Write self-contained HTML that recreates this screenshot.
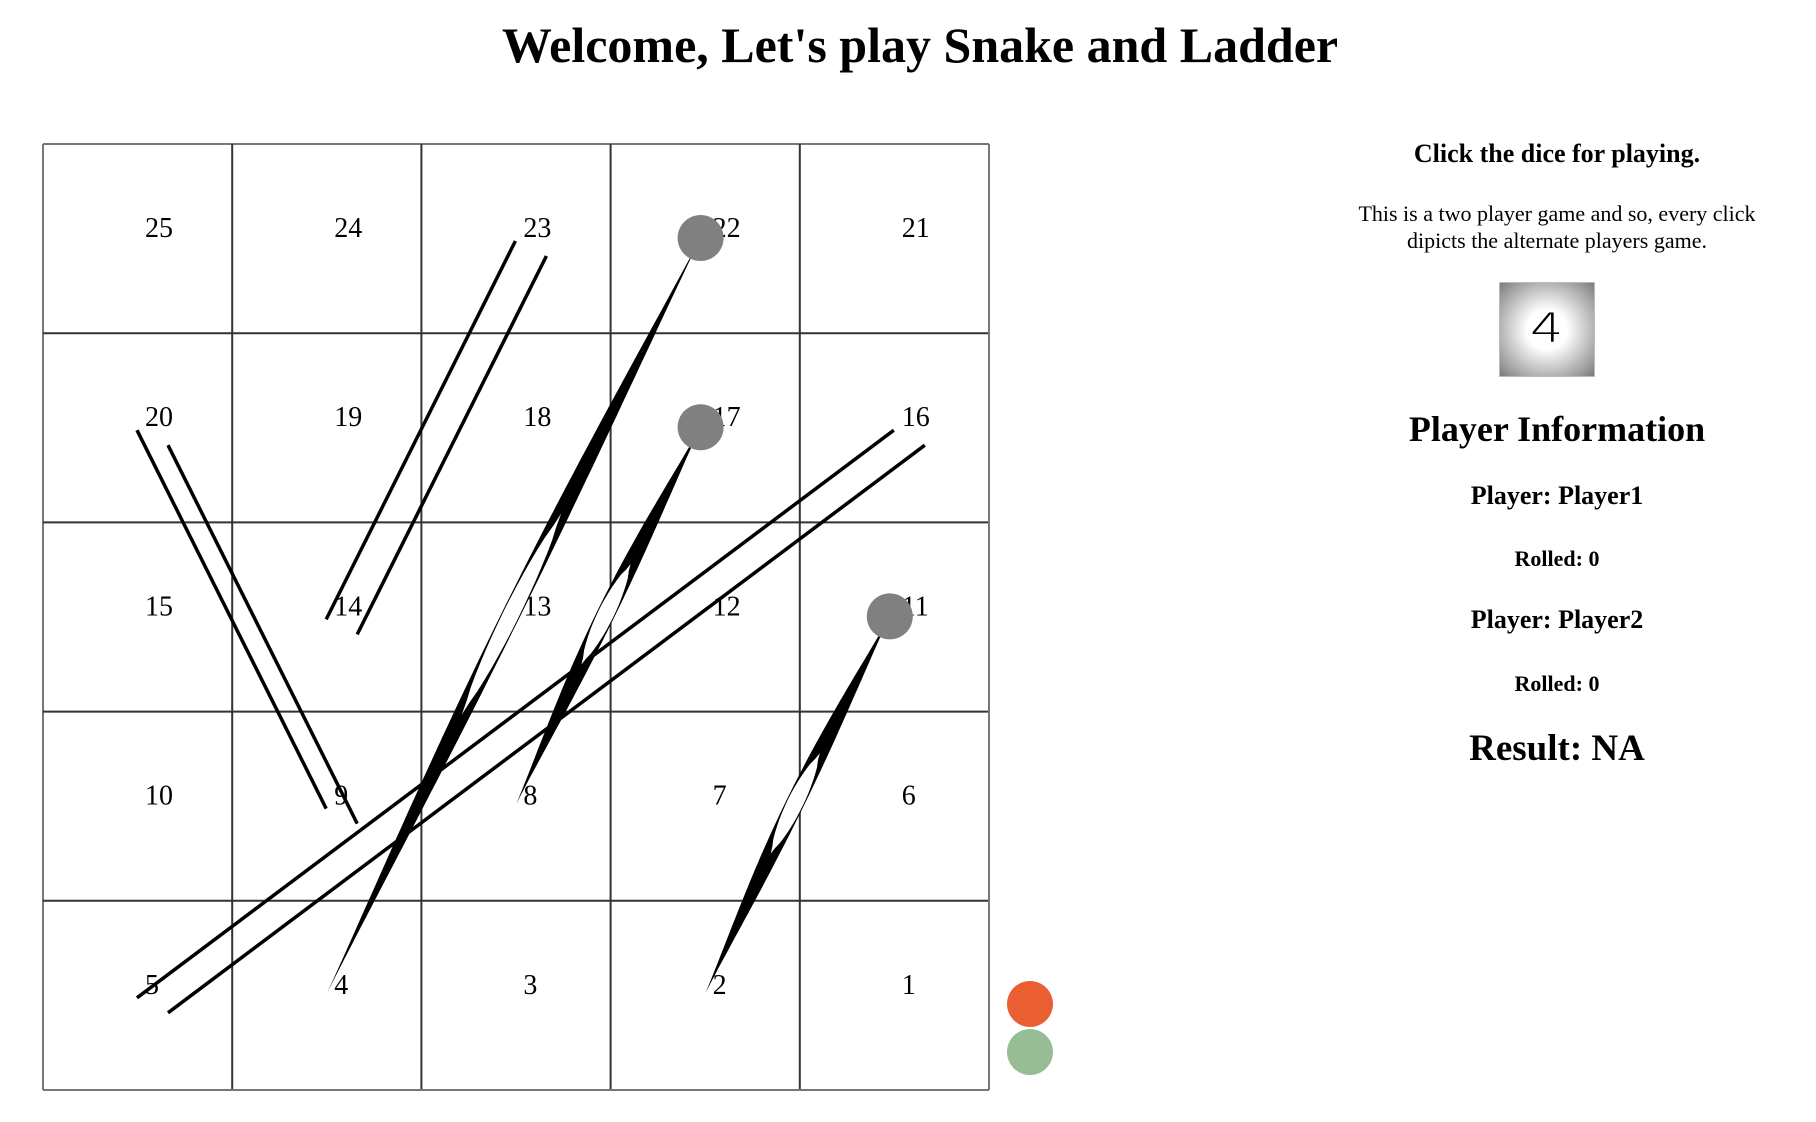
<!DOCTYPE html>
<html><head><meta charset="utf-8">
<style>
body{margin:0;width:1816px;height:1122px;background:#fff;font-family:"Liberation Serif",serif;overflow:hidden;position:relative}
h1{position:absolute;left:0;width:1840px;top:16px;margin:0;text-align:center;font-size:50px;font-weight:bold}
.panel{position:absolute;left:1307px;width:500px;top:0;text-align:center}
.t{position:absolute;left:0;width:500px;margin:0}
#dice{position:absolute;left:1499px;top:282px;width:94px;height:93px;border:1px solid #bbb;background:radial-gradient(ellipse at center,#fff 0%,#fff 30%,#999 85%,#7a7a7a 100%);font-family:"DejaVu Sans",sans-serif;font-size:40px;line-height:93px;text-align:center;font-weight:200;cursor:pointer}
#dice span{display:inline-block;transform:scaleX(1.3)}
</style></head><body>
<h1>Welcome, Let's play Snake and Ladder</h1>
<svg id="board" width="1816" height="1122" style="position:absolute;left:0;top:0"></svg>
<div class="panel">
<p class="t" style="top:139px;font-size:26px;font-weight:bold">Click the dice for playing.</p>
<p class="t" style="top:200px;font-size:22px;line-height:27px">This is a two player game and so, every click<br>dipicts the alternate players game.</p>
<p class="t" style="top:408px;font-size:36px;font-weight:bold">Player Information</p>
<p class="t" style="top:481px;font-size:26px;font-weight:bold">Player: Player1</p>
<p class="t" style="top:546px;font-size:22px;font-weight:bold">Rolled: 0</p>
<p class="t" style="top:605px;font-size:26px;font-weight:bold">Player: Player2</p>
<p class="t" style="top:671px;font-size:22px;font-weight:bold">Rolled: 0</p>
<p class="t" style="top:727px;font-size:37px;font-weight:bold">Result: NA</p>
</div>
<div id="dice"><span>4</span></div>
<script>
const cellNumbers=[25,24,23,22,21,20,19,18,17,16,15,14,13,12,11,10,9,8,7,6,5,4,3,2,1];
const ladderFrom=[9,14,5];
const ladderTo=[20,23,16];
const snakeHead=[22,17,11];
const snakeTail=[4,8,2];
const NS="http://www.w3.org/2000/svg";
const svg=document.getElementById('board');
const L=43,T=144,C=189.2;
function col(n){return (25-n)%5}
function row(n){return Math.floor((25-n)/5)}
function cx(n){return L+col(n)*C}
function cy(n){return T+row(n)*C}
function mk(tag,attrs){const e=document.createElementNS(NS,tag);for(const k in attrs)e.setAttribute(k,attrs[k]);svg.appendChild(e);return e}
for(let i=0;i<=5;i++){
 let v=mk('line',{x1:L+i*C,y1:T,x2:L+i*C,y2:T+5*C,stroke:(i==0||i==5)?'#777':'#333','stroke-width':2});
 
 
 let h=mk('line',{x1:L,y1:T+i*C,x2:L+5*C,y2:T+i*C,stroke:(i==0||i==5)?'#777':'#333','stroke-width':2});
 
 
}
cellNumbers.forEach(n=>{
 const t=mk('text',{x:cx(n)+102,y:cy(n)+93,'font-size':28,'font-family':'Liberation Serif, serif'});
 t.textContent=n;
 
 
});
ladderFrom.forEach((f,i)=>{
 const to=ladderTo[i];
 [[0,0],[31,15]].forEach(o=>{
  const l=mk('line',{x1:cx(to)+94+o[0],y1:cy(to)+97+o[1],x2:cx(f)+94+o[0],y2:cy(f)+97+o[1],stroke:'#000','stroke-width':3.5});
  
  
 });
});
function snakePath(x1,y1,x2,y2,wfn,bend){
 const dx=x2-x1,dy=y2-y1,len=Math.hypot(dx,dy),px=-dy/len,py=dx/len;
 const A=[],B=[];
 for(let k=0;k<=60;k++){const t=k/60;const b=bend*Math.sin(Math.PI*t);const w=wfn(t);
  const x=x1+dx*t+px*b,y=y1+dy*t+py*b;A.push([x+px*w,y+py*w]);B.push([x-px*w,y-py*w]);}
 return 'M'+A.map(p=>p[0].toFixed(1)+','+p[1].toFixed(1)).join('L')+'L'+B.reverse().map(p=>p[0].toFixed(1)+','+p[1].toFixed(1)).join('L')+'Z';
}
snakeHead.forEach((h,i)=>{
 const tl=snakeTail[i];
 const x1=cx(h)+90,y1=cy(h)+94,x2=cx(tl)+95,y2=cy(tl)+92;
 const outer=t=>9*Math.pow(Math.sin(Math.PI*t),1.2);
 const p=mk('path',{d:snakePath(x1,y1,x2,y2,outer,3),fill:'#000'});
 
 
 const inner=t=>{if(t<0.38||t>0.62)return 0;return Math.max(0,outer(t)-1)*Math.pow(Math.sin(Math.PI*(t-0.38)/0.24),0.5)};
 const q=mk('path',{d:snakePath(x1,y1,x2,y2,inner,3),fill:'#fff'});
 
 
 const c=mk('circle',{cx:x1,cy:y1,r:23,fill:'#808080'});
 
 
});
const t1=mk('circle',{cx:1030,cy:1004,r:23,fill:'#e95f32'});


const t2=mk('circle',{cx:1030,cy:1052,r:23,fill:'#97bd95'});


</script>
</body></html>
